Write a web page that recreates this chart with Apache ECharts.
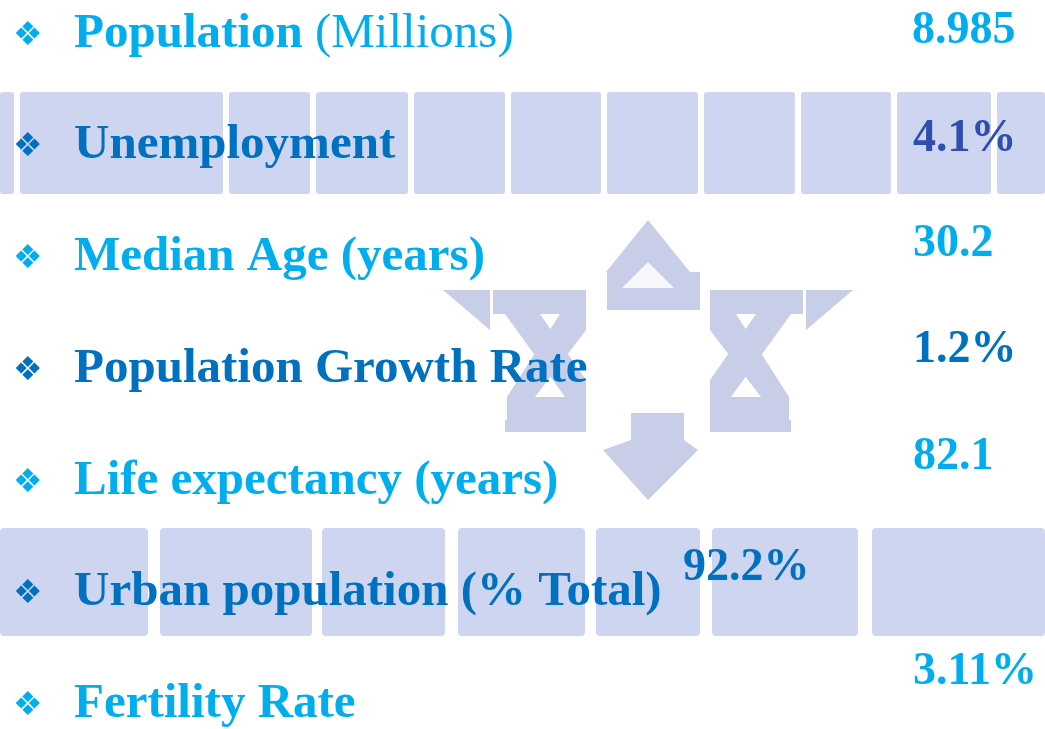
<!DOCTYPE html>
<html>
<head>
<meta charset="utf-8">
<script src="https://cdn.jsdelivr.net/npm/echarts@6/dist/echarts.min.js"></script>
<style>
html,body{margin:0;padding:0;background:#ffffff;}
#chart{width:1045px;height:729px;}
</style>
</head>
<body>
<div id="chart"></div>
<script>
// ---- data ----
const categories = ['Population', 'Unemployment', 'Median Age (years)', 'Population Growth Rate',
                    'Life expectancy (years)', 'Urban population (% Total)', 'Fertility Rate'];
const categoryNotes = ['(Millions)', '', '', '', '', '', ''];
const values = [8.985, 4.1, 30.2, 1.2, 82.1, 92.2, 3.11];
const units = ['', '%', '', '%', '', '%', '%'];

// ---- layout / style (not data) ----
const CYAN = '#00AEEF', BLUE = '#0070C0', INDIGO = '#2F4FB0';
const rowTone = ['c', 'd', 'c', 'd', 'c', 'd', 'c'];
const valueColor = [CYAN, INDIGO, CYAN, BLUE, CYAN, BLUE, CYAN];
const valueColumn = [912, 913, 913, 913, 913, 683, 913];
const valueLift = [-3, -7, -13, -19, -24, -25, -32];

const chart = echarts.init(document.getElementById('chart'), null, {renderer: 'canvas'});

const SERIF = '"Liberation Serif", "DejaVu Serif", serif';
const BAND = '#ced5f1';
const EMB = '#c8cee8';

// decorative background
const gfx = [];
const topBlocks = [[0, 14], [20, 223], [229, 310], [316, 408], [414, 505], [511, 601], [607, 698], [704, 795], [801, 891], [897, 991], [997, 1045]];
topBlocks.forEach(b => gfx.push({type: 'rect', z: -10, shape: {x: b[0], y: 92, width: b[1] - b[0], height: 102, r: 3}, style: {fill: BAND}}));
const botBlocks = [[0, 148], [160, 312], [322, 445], [458, 585], [596, 700], [712, 858], [872, 1045]];
botBlocks.forEach(b => gfx.push({type: 'rect', z: -10, shape: {x: b[0], y: 528, width: b[1] - b[0], height: 108, r: 4}, style: {fill: BAND}}));
// emblem (star-like arrows)
function poly(pts) { gfx.push({type: 'polygon', z: -9, shape: {points: pts}, style: {fill: EMB}}); }
function holed(pts) { gfx.push({type: 'polygon', z: -8, shape: {points: pts}, style: {fill: '#ffffff', opacity: 0.85}}); }
poly([[648, 220], [690, 272], [700, 272], [700, 310], [607, 310], [607, 272], [606, 272]]);
holed([[648, 262], [674, 288], [622, 288]]);
poly([[631, 413], [684, 413], [684, 440], [698, 450], [648, 500], [603, 450], [631, 440]]);
const leftX = [
  [[493, 290], [586, 290], [586, 314], [493, 314]],
  [[507, 397], [586, 397], [586, 420], [507, 420]],
  [[505, 420], [586, 420], [586, 432], [505, 432]],
  [[443, 290], [490, 290], [490, 330]],
  [[505, 314], [540, 314], [586, 380], [586, 397], [565, 397]],
  [[560, 314], [586, 314], [586, 330], [535, 397], [507, 397]]
];
leftX.forEach(p => { poly(p); poly(p.map(q => [1296 - q[0], q[1]])); });

// rich label styles
function rich() {
  const r = {};
  [['c', CYAN], ['d', BLUE]].forEach(([k, col]) => {
    r['b' + k] = {fontFamily: '"DejaVu Sans", sans-serif', fontSize: 33, color: col, width: 61, lineHeight: 60, verticalAlign: 'middle', padding: [4, 0, 0, 0]};
    r['t' + k] = {fontFamily: SERIF, fontWeight: 'bold', fontSize: 49, color: col, lineHeight: 60, verticalAlign: 'middle'};
    r['n' + k] = {fontFamily: SERIF, fontWeight: 'normal', fontSize: 49, color: col, lineHeight: 60, verticalAlign: 'middle'};
  });
  return r;
}

const option = {
  backgroundColor: '#ffffff',
  animation: false,
  graphic: gfx,
  grid: {left: 0, right: 0, top: 34, bottom: 22, containLabel: false},
  xAxis: {type: 'value', min: 0, max: 1045, show: false},
  yAxis: {
    type: 'category', data: categories, inverse: true, boundaryGap: false,
    axisLine: {show: false}, axisTick: {show: false}, splitLine: {show: false},
    axisLabel: {
      inside: true, margin: 13, interval: 0,
      formatter: function (name, i) {
        const t = rowTone[i];
        let s = '{b' + t + '|\u2756}{t' + t + '|' + name + '}';
        if (categoryNotes[i]) s += '{n' + t + '| ' + categoryNotes[i] + '}';
        return s;
      },
      rich: rich()
    }
  },
  series: [{
    type: 'scatter',
    symbolSize: 0,
    silent: true,
    itemStyle: {opacity: 1},
    data: values.map((v, i) => ({
      value: [valueColumn[i], i],
      label: {color: valueColor[i], offset: [0, valueLift[i]]}
    })),
    label: {
      show: true, position: 'right', distance: 0, opacity: 1,
      fontFamily: SERIF, fontWeight: 'bold', fontSize: 46,
      formatter: p => String(values[p.dataIndex]) + units[p.dataIndex]
    }
  }]
};
chart.setOption(option);
</script>
</body>
</html>
